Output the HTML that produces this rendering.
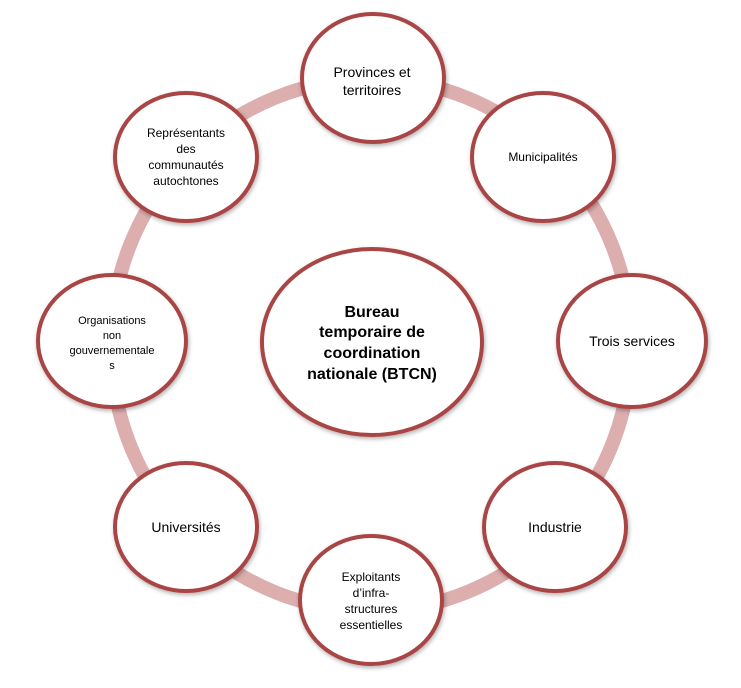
<!DOCTYPE html>
<html><head><meta charset="utf-8"><style>
body{margin:0;background:#fff}
svg text{font-family:"Liberation Sans",sans-serif;fill:#000}
</style></head><body>
<svg width="741" height="683" viewBox="0 0 741 683" xmlns="http://www.w3.org/2000/svg">
<defs><filter id="s" x="-20%" y="-20%" width="140%" height="140%"><feDropShadow dx="1" dy="2" stdDeviation="2" flood-color="#000" flood-opacity="0.3"/></filter></defs>
<ellipse cx="371" cy="345" rx="260" ry="266" fill="none" stroke="#dcaeae" stroke-width="14"/>
<g fill="#fff" stroke="#a94444" stroke-width="4" filter="url(#s)">
<ellipse cx="372" cy="342" rx="110" ry="93"/>
<ellipse cx="373" cy="78" rx="71" ry="64"/>
<ellipse cx="543" cy="157" rx="71" ry="64"/>
<ellipse cx="632" cy="341" rx="74" ry="66"/>
<ellipse cx="555" cy="527" rx="71" ry="64"/>
<ellipse cx="371" cy="600" rx="71" ry="64"/>
<ellipse cx="186" cy="527" rx="71" ry="64"/>
<ellipse cx="112" cy="341" rx="74" ry="66"/>
<ellipse cx="186" cy="157" rx="71" ry="64"/>
</g>
<g text-anchor="middle" font-size="13">
<text x="372" y="317" font-size="16" font-weight="bold">Bureau</text>
<text x="372" y="337" font-size="16" font-weight="bold">temporaire de</text>
<text x="372" y="358" font-size="16" font-weight="bold">coordination</text>
<text x="372" y="379" font-size="16" font-weight="bold">nationale (BTCN)</text>
<text x="372" y="77" font-size="14">Provinces et</text>
<text x="372" y="95" font-size="14">territoires</text>
<text x="543" y="161" font-size="12">Municipalités</text>
<text x="632" y="346" font-size="14">Trois services</text>
<text x="555" y="532" font-size="14">Industrie</text>
<text x="371" y="581" font-size="12">Exploitants</text>
<text x="371" y="597" font-size="12">d’infra-</text>
<text x="371" y="613" font-size="12">structures</text>
<text x="371" y="629" font-size="12">essentielles</text>
<text x="186" y="532" font-size="14">Universités</text>
<text x="112" y="324" font-size="11">Organisations</text>
<text x="112" y="339" font-size="11">non</text>
<text x="112" y="354" font-size="11">gouvernementale</text>
<text x="112" y="369" font-size="11">s</text>
<text x="186" y="137" font-size="12">Représentants</text>
<text x="186" y="153" font-size="12">des</text>
<text x="186" y="169" font-size="12">communautés</text>
<text x="186" y="185" font-size="12">autochtones</text>
</g>
</svg>
</body></html>
